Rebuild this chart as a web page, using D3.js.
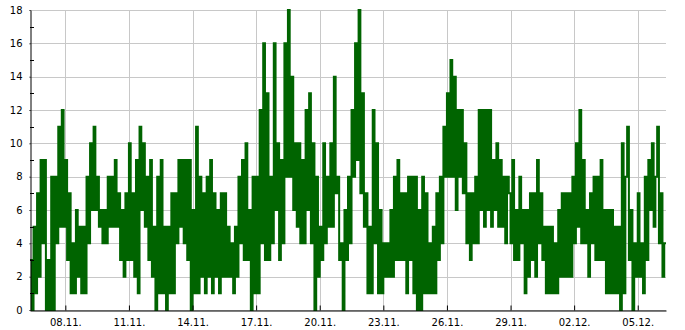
<!DOCTYPE html>
<html>
<head>
<meta charset="utf-8">
<script src="https://cdn.jsdelivr.net/npm/d3@7"></script>
<style>
  html, body { margin: 0; padding: 0; background: #fff; }
  svg { display: block; font-family: "DejaVu Sans", sans-serif; }
</style>
</head>
<body>
<svg id="chart" width="685" height="330"></svg>
<script>
// ---- data ----
const startTime = "2023-11-06T08:00:00";   // first sample
const endTime   = "2023-12-06T08:00:00";   // end of x domain
const stepHours = 2;                       // sample interval
const values = [
  // 06.11. 08:00 ->
  3,0,5,1,7,2,9,4,9,0, 3,0,8,0,8,4,11,5,12,5, 9,3,7,1,4,1,6,2,5,1,
  5,1,8,4,10,6,11,6,8,5, 6,4,6,4,8,5,8,5,9,5, 7,3,6,2,7,3,10,3,7,2,
  9,1,11,6,10,5,8,3,9,2, 5,0,8,1,9,1,5,0,5,1, 7,1,7,4,9,5,9,4,9,3,
  // 13.11. 20:00 ->
  9,0,6,1,11,1,8,2,7,1, 8,2,9,1,7,2,6,1,7,2, 7,2,5,2,4,1,5,2,8,4,
  9,3,10,3,6,0,8,1,8,1, 12,4,16,3,13,3,8,4,16,6, 10,3,9,4,16,8,18,8,14,6,
  10,5,10,4,9,4,12,6,13,4, 10,0,8,2,5,3,10,4,8,5, 10,5,14,7,8,3,4,0,6,3,
  // 21.11. 08:00 ->
  8,4,12,8,16,9,18,7,13,5, 7,1,5,1,12,4,10,1,6,1, 4,2,4,2,6,2,8,3,9,3,
  7,3,7,1,8,3,8,1,8,0, 6,0,8,1,7,1,4,1,5,1, 7,3,8,4,11,8,13,8,15,8,
  14,6,12,8,12,7,10,4,7,3, 7,4,8,4,12,6,12,5,12,6, 12,5,9,6,10,5,9,5,8,4,
  8,
  7,4,9,3,6,3,8,4,6,1, 6,2,7,3,7,2,9,4,7,3, 5,1,5,1,5,1,4,1,6,2,
  7,2,7,2,7,2,8,4,10,5, 12,4,9,4,6,2,7,4,8,3, 8,3,9,3,6,1,6,1,6,1,
  5,1,5,0,10,1,8,11,3,6, 0,4,2,7,2,4,1,8,3,9, 6,10,5,8,11,4,7,2,4
];
const xTickDates = ["2023-11-08","2023-11-11","2023-11-14","2023-11-17","2023-11-20",
                    "2023-11-23","2023-11-26","2023-11-29","2023-12-02","2023-12-05"];
const yMajorTicks = [0,2,4,6,8,10,12,14,16,18];
const yMinorTicks = [1,3,5,7,9,11,13,15,17];

// ---- layout ----
const svg = d3.select("#chart");
const mLeft = 30, mRight = 666, mTop = 10, mBottom = 310;
const parse = d3.isoParse;
const t0 = parse(startTime), t1 = parse(endTime);

const x = d3.scaleTime().domain([t0, t1]).range([mLeft, mRight]);
const y = d3.scaleLinear().domain([0, 18]).range([mBottom, mTop]);

const pts = values.map((v, i) => ({ t: d3.timeHour.offset(t0, i * stepHours), v }));
pts.push({ t: d3.timeHour.offset(t0, values.length * stepHours), v: values[values.length - 1] });

// grid
const grid = svg.append("g").attr("stroke", "#c8c8c8").attr("stroke-width", 1);
grid.selectAll("line.h").data(yMajorTicks).join("line")
  .attr("x1", mLeft).attr("x2", mRight)
  .attr("y1", d => Math.round(y(d)) + 0.5).attr("y2", d => Math.round(y(d)) + 0.5);
grid.selectAll("line.v").data(xTickDates.map(parse)).join("line")
  .attr("y1", mTop).attr("y2", mBottom)
  .attr("x1", d => Math.round(x(d)) + 0.5).attr("x2", d => Math.round(x(d)) + 0.5);

// series
const line = d3.line().x(d => x(d.t)).y(d => y(d.v)).curve(d3.curveStepAfter);
svg.append("path").datum(pts)
  .attr("d", line)
  .attr("fill", "none")
  .attr("stroke", "#006400")
  .attr("stroke-width", 2)
  .attr("stroke-linejoin", "miter");

// axes
const fmt = d3.timeFormat("%d.%m.");
const xAxis = d3.axisBottom(x).tickValues(xTickDates.map(parse)).tickFormat(fmt)
  .tickSizeInner(-5).tickSizeOuter(0).tickPadding(8);
const gx = svg.append("g").attr("transform", `translate(0,${mBottom + 0.5})`).call(xAxis);
gx.select(".domain").attr("stroke", "#000");
gx.selectAll("text").attr("font-size", 10).attr("font-family", "DejaVu Sans").attr("fill", "#000");

const yAxis = d3.axisLeft(y).tickValues(yMajorTicks).tickSizeInner(1).tickSizeOuter(0).tickPadding(7);
const gy = svg.append("g").attr("transform", `translate(${mLeft + 0.5},0)`).call(yAxis);
gy.select(".domain").attr("stroke", "#000");
gy.selectAll("text").attr("font-size", 10).attr("font-family", "DejaVu Sans").attr("fill", "#000");

svg.append("g").selectAll("line").data(yMinorTicks).join("line")
  .attr("x1", mLeft).attr("x2", mLeft + 4)
  .attr("y1", d => Math.round(y(d)) + 0.5).attr("y2", d => Math.round(y(d)) + 0.5)
  .attr("stroke", "#000");
</script>
</body>
</html>
